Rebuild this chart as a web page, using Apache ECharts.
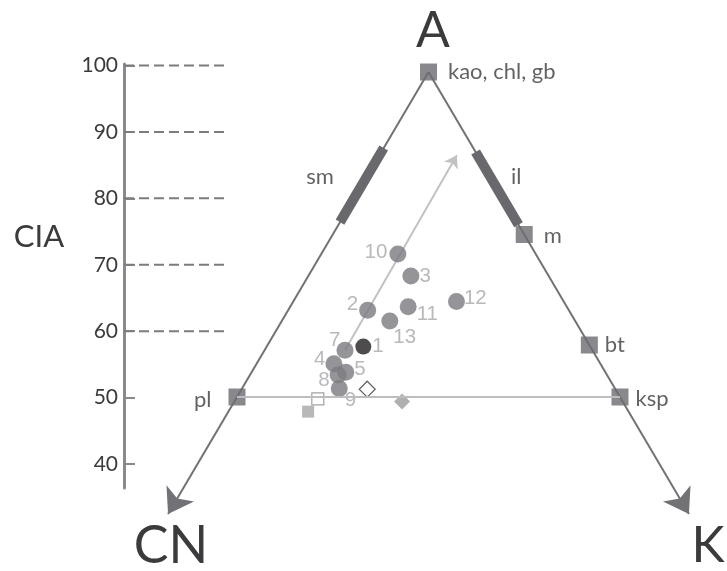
<!DOCTYPE html>
<html><head><meta charset="utf-8">
<script src="https://cdn.jsdelivr.net/npm/echarts@6/dist/echarts.min.js"></script>
<style>html,body{margin:0;padding:0;background:#fff}#c{width:727px;height:571px}</style>
</head><body><div id="c"></div>
<script>
// CIA scale
const ciaTicks = [40, 50, 60, 70, 80, 90, 100];
const ciaDashed = [60, 70, 80, 90, 100];

// Samples (A, CN, K in %)
const sampleNames = ['1','2','3','4','5','7','8','9','10','11','12','13'];
const sampleA  = [57.7, 63.4, 68.6, 55.1, 53.8, 57.2, 53.4, 51.3, 72.0, 63.9, 64.7, 61.7];
const sampleCN = [29.6, 26.3, 18.0, 34.8, 33.9, 32.3, 35.1, 36.0, 18.0, 20.7, 14.0, 24.2];
const sampleK  = [12.6, 10.4, 13.4, 10.1, 12.3, 10.5, 11.5, 12.7, 10.0, 15.4, 21.3, 14.1];
const highlighted = '1';

// Reference compositions
const refNames = ['openSquare', 'graySquare', 'openDiamond', 'grayDiamond'];
const refA  = [49.7, 47.7, 51.2, 49.3];
const refCN = [39.6, 41.8, 32.4, 28.8];
const refK  = [10.7, 10.4, 16.4, 21.9];

// Minerals
const mineralNames = ['kao, chl, gb', 'm', 'bt', 'ksp', 'pl'];
const mineralA  = [100, 75, 58, 50, 50];
const mineralCN = [0, 0, 0, 0, 50];
const mineralK  = [0, 25, 42, 50, 0];

// Mineral bands on the edges (A range)
const bandNames = ['sm', 'il'];
const bandEdge = ['CN', 'K'];
const bandAFrom = [76.9, 76.5];
const bandATo = [88.3, 87.7];

// Weathering trend: from sample 7 towards A
const trendFrom = [57.2, 32.3, 10.5];
const trendTo = [87.2, 2.7, 10.1];
// Edge arrows end at A =
const edgeArrowA = 32;

function tern(a, cn, k) {
  const s = a + cn + k;
  const A = a / s * 100, K = k / s * 100;
  return [K + A / 2, A];
}

const labelStyles = {
  '1': {position: 'right', distance: 1},
  '2': {position: 'left', distance: 1, offset: [0, -6]},
  '3': {position: 'right', distance: 0},
  '4': {position: 'left', distance: 0, offset: [0, -5]},
  '5': {position: 'right', distance: 0, offset: [0, -3]},
  '7': {position: 'left', distance: 0, offset: [4, -10]},
  '8': {position: 'left', distance: 0, offset: [0, 5]},
  '9': {position: 'right', distance: 0, offset: [-3, 12]},
  '10': {position: 'left', distance: 2, offset: [0, -2]},
  '11': {position: 'right', distance: 0, offset: [0, 8]},
  '12': {position: 'right', distance: 0, offset: [-1, -3]},
  '13': {position: 'right', distance: 0, offset: [-5, 16]}
};
const mineralLabelStyles = {
  'kao, chl, gb': {position: 'right', distance: 11},
  'm': {position: 'right', distance: 11, offset: [0, 1]},
  'bt': {position: 'right', distance: 7},
  'ksp': {position: 'right', distance: 7, offset: [0, 2]},
  'pl': {position: 'left', distance: 17, offset: [0, 3]}
};
const bandLabelStyles = {
  'sm': {position: 'left', distance: 28, offset: [0, -8]},
  'il': {position: 'right', distance: 14, offset: [0, -11]}
};

const darkText = '#3b3b3d';
const gillFont = 'Lato, "Open Sans", sans-serif';

const series = [];

// CIA dashed levels
ciaDashed.forEach(v => {
  series.push({
    type: 'line', xAxisIndex: 0, yAxisIndex: 0, silent: true,
    data: [[0, v], [1, v]], symbol: 'none',
    lineStyle: {color: '#7c7c80', width: 2, type: [10, 5]}
  });
});

// pl - ksp line
series.push({
  type: 'line', xAxisIndex: 1, yAxisIndex: 1, silent: true, symbol: 'none',
  data: [tern(50, 50, 0), tern(50, 0, 50)],
  lineStyle: {color: '#bdbdbf', width: 2}
});

// trend arrow
series.push({
  type: 'lines', coordinateSystem: 'cartesian2d', xAxisIndex: 1, yAxisIndex: 1, silent: true,
  symbol: ['none', 'arrow'], symbolSize: [8, 12],
  data: [{coords: [tern(...trendFrom), tern(...trendTo)]}],
  lineStyle: {color: '#c2c2c4', width: 2, opacity: 1}
});

// triangle edges
series.push({
  type: 'lines', coordinateSystem: 'cartesian2d', xAxisIndex: 1, yAxisIndex: 1, silent: true,
  symbol: ['none', 'arrow'], symbolSize: [15, 24],
  data: [
    {coords: [tern(100, 0, 0), tern(edgeArrowA, 100 - edgeArrowA, 0)]},
    {coords: [tern(100, 0, 0), tern(edgeArrowA, 0, 100 - edgeArrowA)]}
  ],
  lineStyle: {color: '#727276', width: 2, opacity: 1}
});

// bands
bandNames.forEach((n, i) => {
  const p = a => bandEdge[i] === 'CN' ? tern(a, 100 - a, 0) : tern(a, 0, 100 - a);
  series.push({
    type: 'line', xAxisIndex: 1, yAxisIndex: 1, silent: true, symbol: 'none',
    data: [p(bandAFrom[i]), p(bandATo[i])],
    lineStyle: {color: '#69696d', width: 10, cap: 'butt'}
  });
});
series.push({
  type: 'scatter', xAxisIndex: 1, yAxisIndex: 1, silent: true, symbolSize: 0,
  data: bandNames.map((n, i) => {
    const a = (bandAFrom[i] + bandATo[i]) / 2;
    const v = bandEdge[i] === 'CN' ? tern(a, 100 - a, 0) : tern(a, 0, 100 - a);
    return {value: v, name: n, label: Object.assign({show: true, formatter: n}, bandLabelStyles[n])};
  }),
  label: {color: darkText, fontSize: 22, fontFamily: gillFont}
});

// reference symbols
const refStyles = {
  openSquare: {symbol: 'rect', symbolSize: 12, itemStyle: {color: '#fff', borderColor: '#8a8a8e', borderWidth: 1.2}},
  graySquare: {symbol: 'rect', symbolSize: 12, itemStyle: {color: '#a6a6a8'}},
  openDiamond: {symbol: 'diamond', symbolSize: 16, itemStyle: {color: '#fff', borderColor: '#3a3a3a', borderWidth: 1.2}},
  grayDiamond: {symbol: 'diamond', symbolSize: 16, itemStyle: {color: '#9c9c9e'}}
};
series.push({
  type: 'scatter', xAxisIndex: 1, yAxisIndex: 1, silent: true,
  data: refNames.map((n, i) => Object.assign({value: tern(refA[i], refCN[i], refK[i]), name: n}, refStyles[n]))
});

// samples
series.push({
  type: 'scatter', xAxisIndex: 1, yAxisIndex: 1, silent: true,
  symbol: 'circle', symbolSize: 17,
  itemStyle: {color: '#7b7b7f'},
  label: {show: true, color: '#a8a8aa', fontSize: 20.5, fontFamily: '"Liberation Sans", Arial, sans-serif'},
  data: sampleNames.map((n, i) => {
    const d = {value: tern(sampleA[i], sampleCN[i], sampleK[i]), name: n,
      label: Object.assign({formatter: n}, labelStyles[n])};
    if (n === highlighted) { d.itemStyle = {color: '#231f20'}; d.symbolSize = 16; }
    return d;
  })
});

// minerals
series.push({
  type: 'scatter', xAxisIndex: 1, yAxisIndex: 1, silent: true,
  symbol: 'rect', symbolSize: 17,
  itemStyle: {color: '#6c6c71'},
  label: {show: true, color: darkText, fontSize: 22, fontFamily: gillFont},
  data: mineralNames.map((n, i) => ({
    value: tern(mineralA[i], mineralCN[i], mineralK[i]), name: n,
    label: Object.assign({formatter: n}, mineralLabelStyles[n])
  }))
});

const chart = echarts.init(document.getElementById('c'), null, {renderer: 'canvas'});
chart.setOption({
  animation: false,
  backgroundColor: '#fff',
  grid: [
    {left: 124, top: 64, width: 105, bottom: 83},
    {left: 0, right: 0, top: 0, bottom: 0}
  ],
  xAxis: [
    {gridIndex: 0, type: 'value', min: 0, max: 1, show: false},
    {gridIndex: 1, type: 'value', min: -5.94, max: 88.97, show: false}
  ],
  yAxis: [
    {gridIndex: 0, type: 'value', min: 36.39, max: 100.23,
      axisLine: {show: true, lineStyle: {color: '#8a8a8e', width: 3}},
      axisTick: {show: true, inside: true, length: 11, customValues: ciaTicks, lineStyle: {color: '#8a8a8e', width: 2}},
      axisLabel: {show: true, customValues: ciaTicks, fontSize: 21, color: darkText, fontFamily: gillFont, margin: 6},
      splitLine: {show: false}
    },
    {gridIndex: 1, type: 'value', min: 23.23, max: 111.08, show: false}
  ],
  graphic: [
    {type: 'text', x: 433, y: 31, style: {text: 'A', fill: darkText, font: '50px ' + gillFont, textAlign: 'center', textVerticalAlign: 'middle'}},
    {type: 'text', x: 171, y: 546, style: {text: 'CN', fill: darkText, font: '52px ' + gillFont, textAlign: 'center', textVerticalAlign: 'middle'}},
    {type: 'text', x: 708, y: 546, style: {text: 'K', fill: darkText, font: '50px ' + gillFont, textAlign: 'center', textVerticalAlign: 'middle'}},
    {type: 'text', x: 39, y: 237, style: {text: 'CIA', fill: darkText, font: '31px ' + gillFont, textAlign: 'center', textVerticalAlign: 'middle'}}
  ],
  series: series
});
</script>
</body></html>
